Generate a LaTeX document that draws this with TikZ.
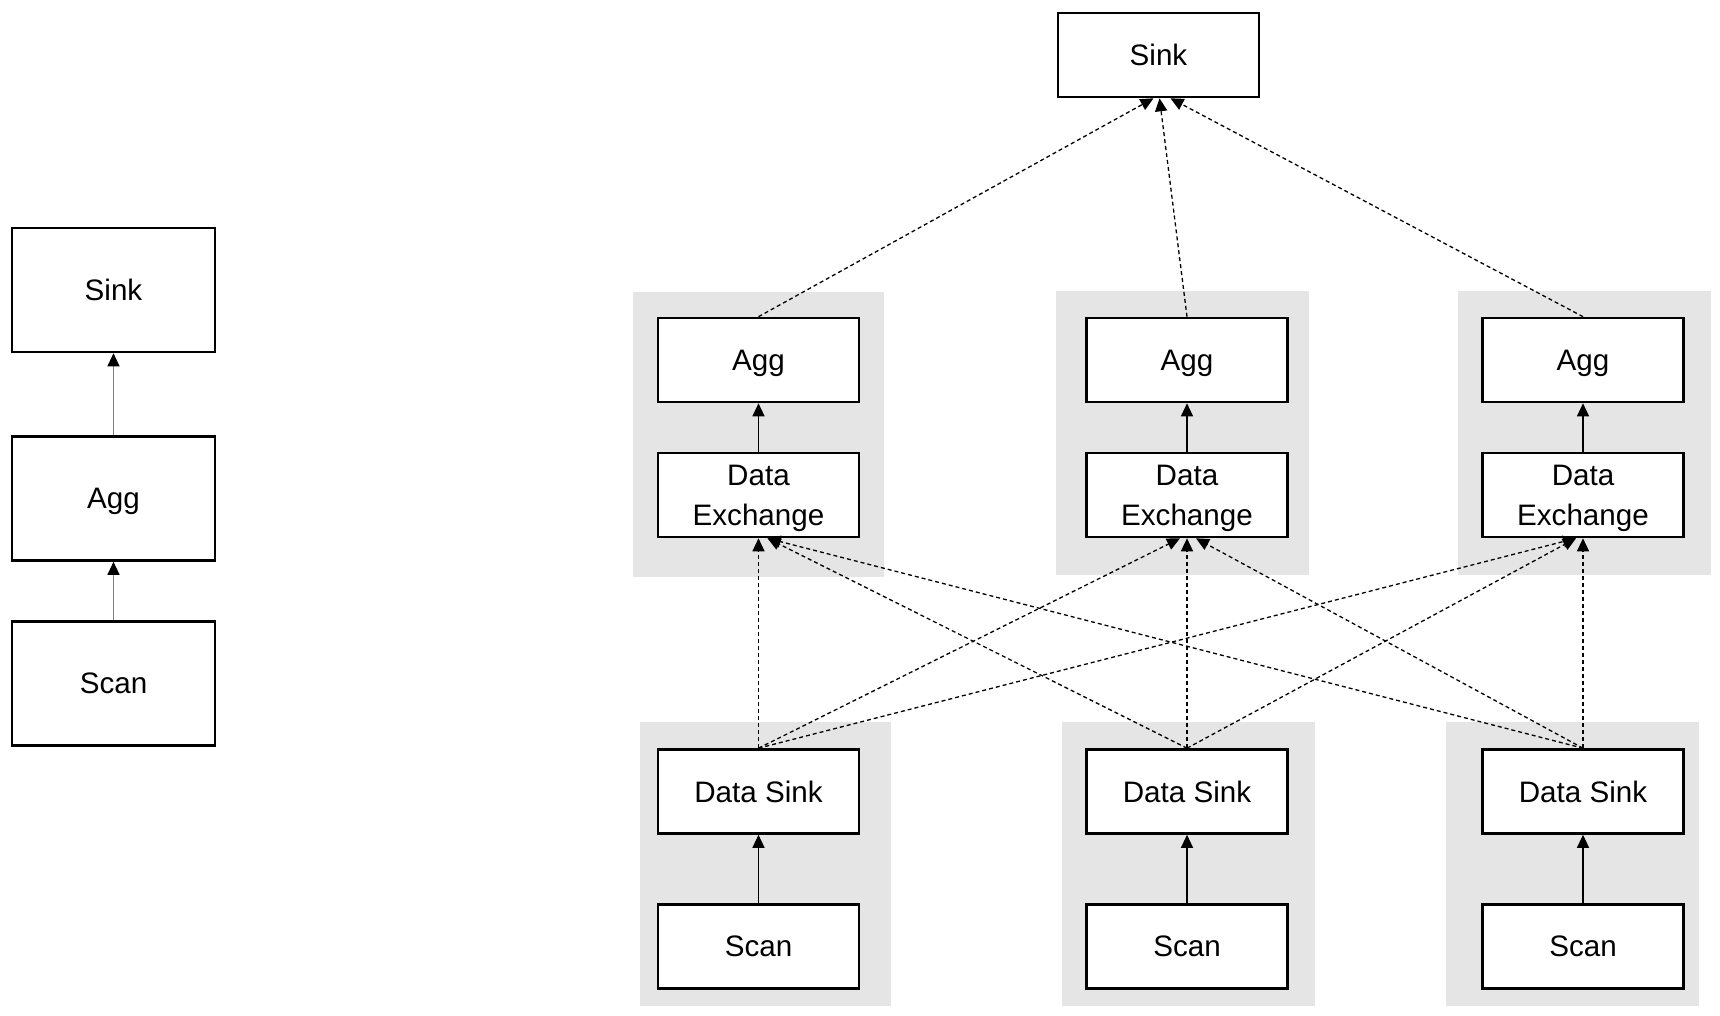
\documentclass[tikz,border=0pt]{standalone}
\usepackage{fontspec}
\setmainfont{Liberation Sans}
\usetikzlibrary{arrows.meta,calc}
\begin{document}
\begin{tikzpicture}[x=0.5pt,y=-0.5pt,
  box/.style={draw=black,line width=1.3pt,fill=white,minimum width=100.5pt,minimum height=42pt,inner sep=0pt,align=center,text depth=0pt,font=\fontsize{14.8}{20}\selectfont},
  bigbox/.style={box,minimum width=101.5pt,minimum height=62pt},
  grp/.style={fill=black!10,draw=none},
  solidarrow/.style={-{Triangle[length=6.5pt,width=6pt,color=black]},line width=0.6pt},
  greyarrow/.style={solidarrow,draw=black!50},
  dasharrow/.style={-{Triangle[length=6.5pt,width=6pt]},line width=0.65pt,dash pattern=on 2pt off 1.5pt}]
\useasboundingbox (0,0) rectangle (1720,1016);
\fill[white] (0,0) rectangle (1720,1016);

% left column
\node[bigbox] (lsink) at (113.5,290) {Sink};
\node[bigbox] (lagg)  at (113.5,498.5) {Agg};
\node[bigbox] (lscan) at (113.5,683.5) {Scan};
\draw[greyarrow] (lscan) -- (lagg);
\draw[greyarrow] (lagg) -- (lsink);

% group backgrounds
\fill[grp] (633,292) rectangle (884,577);
\fill[grp] (1056,291) rectangle (1309,575);
\fill[grp] (1458,291) rectangle (1711,575);
\fill[grp] (640,722) rectangle (891,1006);
\fill[grp] (1062,722) rectangle (1315,1006);
\fill[grp] (1446,722) rectangle (1699,1006);

% top sink
\node[box] (sink) at (1158.5,55) {Sink};

\foreach \i/\x in {1/758.5,2/1187,3/1583}{
  \node[box] (agg\i)  at (\x,360)   {Agg};
  \node[box] (de\i)   at (\x,495)   {Data\\Exchange};
  \node[box] (ds\i)   at (\x,791.5) {Data Sink};
  \node[box] (scan\i) at (\x,946.5) {Scan};
  \draw[solidarrow] (scan\i) -- (ds\i);
  \draw[solidarrow] (de\i) -- (agg\i);
}

\draw[dasharrow] (agg1.north) -- ($(sink.south)+(-5,0)$);
\draw[dasharrow] (agg2.north) -- ($(sink.south)+(1,0)$);
\draw[dasharrow] (agg3.north) -- ($(sink.south)+(12,0)$);

\foreach \i in {1,2,3}{
  \foreach \j in {1,2,3}{
    \pgfmathsetmacro{\dx}{\i<\j ? -7 : (\i>\j ? 9 : 0)}
    \draw[dasharrow] (ds\i.north) -- ($(de\j.south)+(\dx,0)$);
  }
}
\end{tikzpicture}
\end{document}
